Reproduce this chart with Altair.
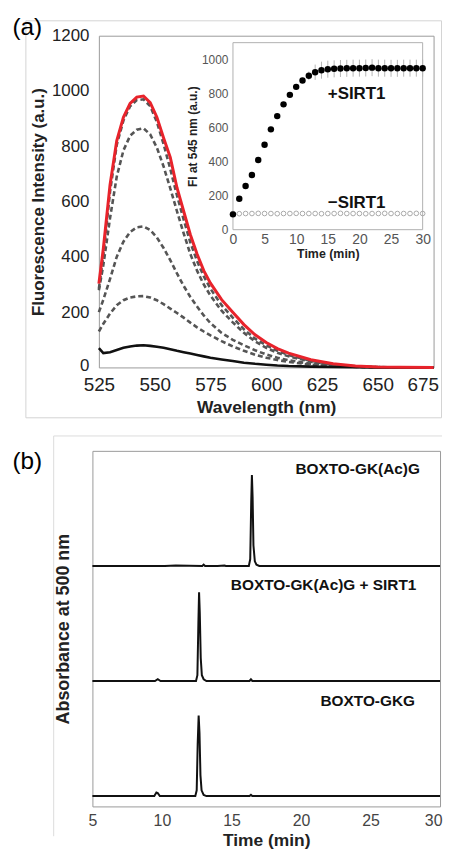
import altair as alt
import pandas as pd

FONT = "Liberation Sans"

# ---------------- Panel (a): emission spectra ----------------
wavelength = [525, 527, 530, 533, 536, 539, 542, 545, 548, 551, 554, 557, 560, 563, 566, 569, 572, 575,
              580, 585, 590, 595, 600, 605, 610, 620, 630, 640, 650, 660, 675]
red_final = [303, 430, 660, 820, 905, 955, 978, 982, 958, 905, 830, 760, 650, 565, 480, 410, 350, 305,
             245, 200, 155, 118, 90, 68, 52, 28, 13, 5, 1.5, 0.5, 0]
dash_970 = [285, 405, 635, 805, 893, 945, 967, 970, 945, 888, 808, 718, 622, 535, 452, 385, 330, 285,
            225, 180, 138, 104, 80, 60, 45, 24, 11, 4, 1.2, 0.4, 0]
dash_865 = [279, 370, 540, 690, 785, 838, 860, 865, 843, 795, 727, 648, 565, 485, 410, 350, 300, 260,
            205, 163, 125, 94, 71, 53, 40, 21, 9, 3.5, 1, 0.3, 0]
dash_510 = [200, 245, 320, 400, 455, 490, 507, 510, 497, 470, 432, 388, 340, 295, 255, 220, 188, 160,
            125, 100, 80, 62, 47, 35, 26, 13, 6, 2.2, 0.6, 0.2, 0]
dash_258 = [130, 158, 195, 225, 243, 253, 257, 258, 253, 243, 229, 213, 197, 180, 162, 145, 130, 116,
            95, 76, 60, 46, 35, 27, 20, 10, 4.5, 1.8, 0.5, 0.2, 0]
black_0 = [70, 52, 55, 63, 71, 76, 79, 80, 78, 75, 71, 66, 60, 55, 50, 45, 40, 35,
           29, 23, 17, 13, 10, 7, 5, 3, 1.5, 0.7, 0.3, 0.1, 0]

# ---------------- Inset: time course ----------------
time_min = list(range(31))
plus_sirt1 = [90, 182, 257, 322, 410, 500, 590, 668, 737, 793, 840, 877, 905, 926, 938, 944, 946, 948,
              949, 950, 950, 951, 953, 950, 950, 949, 949, 950, 950, 950, 950]
plus_err = [0, 0, 0, 0, 0, 0, 0, 0, 0, 0, 0, 0, 25, 45, 50, 50, 50, 50,
            50, 50, 50, 50, 50, 50, 50, 50, 50, 50, 50, 50, 50]
minus_sirt1 = [95, 94, 95, 95, 96, 95, 95, 94, 95, 95, 96, 95, 95, 95, 94, 95, 95, 96,
               95, 95, 95, 94, 95, 95, 96, 95, 95, 95, 95, 96, 95]

# ---------------- Panel (b): HPLC traces ----------------
trace_names = ["BOXTO-GKG", "BOXTO-GK(Ac)G + SIRT1", "BOXTO-GK(Ac)G"]
trace_offsets = [0, 1, 2]
top_t = [5.0, 7.0, 10.2, 11.0, 12.9, 13.0, 13.1, 14.0, 14.5, 14.6, 16.25, 16.35, 16.42, 16.47, 16.52,
         16.58, 16.68, 16.8, 17.0, 30.0]
top_v = [0, 0, 0, 0.004, 0, 0.012, 0, 0, 0.004, 0, 0, 0.06, 0.55, 0.79, 0.6, 0.18, 0.04, 0.01, 0, 0]
mid_t = [5.0, 9.5, 9.7, 9.9, 12.45, 12.55, 12.62, 12.67, 12.72, 12.79, 12.87, 13.0, 13.2, 16.3, 16.4,
         16.5, 30.0]
mid_v = [0, 0, 0.015, 0, 0, 0.05, 0.5, 0.77, 0.6, 0.2, 0.05, 0.015, 0, 0, 0.015, 0, 0]
bot_t = [5.0, 9.45, 9.6, 9.7, 9.85, 12.4, 12.5, 12.57, 12.64, 12.7, 12.77, 12.85, 13.0, 13.2, 16.3,
         16.4, 16.5, 30.0]
bot_v = [0, 0, 0.03, 0.025, 0, 0, 0.05, 0.45, 0.70, 0.55, 0.18, 0.05, 0.01, 0, 0, 0.01, 0, 0]
label_x = [28.2, 28.3, 28.55]
label_y = [0.784, 1.79, 2.802]

# ---------------- build tables ----------------
spec_rows = []
for name, vals in [("d970", dash_970), ("d865", dash_865), ("d510", dash_510), ("d258", dash_258)]:
    for w, v in zip(wavelength, vals):
        spec_rows.append({"wl": w, "fi": v, "series": name})
df_dash = pd.DataFrame(spec_rows)
df_red = pd.DataFrame({"wl": wavelength, "fi": red_final})
df_black = pd.DataFrame({"wl": wavelength, "fi": black_0})

df_plus = pd.DataFrame({"t": time_min, "fi": plus_sirt1,
                        "lo": [v - e for v, e in zip(plus_sirt1, plus_err)],
                        "hi": [v + e for v, e in zip(plus_sirt1, plus_err)],
                        "err": plus_err})
df_err = df_plus[df_plus["err"] > 0]
df_minus = pd.DataFrame({"t": time_min, "fi": minus_sirt1})

trace_rows = []
for name, off, ts, vs in zip(trace_names, trace_offsets, [bot_t, mid_t, top_t], [bot_v, mid_v, top_v]):
    for t, v in zip(ts, vs):
        trace_rows.append({"t": t, "abs": off + v, "trace": name})
df_trace = pd.DataFrame(trace_rows)
df_lab = pd.DataFrame({"t": label_x, "y": label_y, "label": trace_names})

# ---------------- Panel (a) ----------------
W_A, H_A = 337, 334
sx_main = alt.Scale(domain=[525, 675], nice=False, zero=False)
sy_main = alt.Scale(domain=[0, 1200], nice=False)
ax_main_x = alt.Axis(values=[525, 550, 575, 600, 625, 650, 675], title="Wavelength (nm)", grid=False,
                     domain=False, tickSize=0, labelPadding=8, labelFontSize=19, labelColor="#222",
                     labelFlush=False, format="d",
                     labelAlign={"condition": {"test": "datum.value >= 675", "value": "right"},
                                 "value": "center"},
                     labelOffset={"condition": {"test": "datum.value >= 675", "value": 5}, "value": 0},
                     titleFontSize=17.5, titleFontWeight="bold", titleColor="#222", titlePadding=4)
ax_main_y = alt.Axis(values=[0, 200, 400, 600, 800, 1000, 1200], title="Fluorescence Intensity (a.u.)",
                     grid=False, domain=False, tickSize=0, labelPadding=10, labelFontSize=17,
                     labelFlush=False, format="d",
                     labelOffset={"condition": {"test": "datum.value == 0", "value": -2}, "value": 0},
                     labelColor="#222", titleFontSize=17, titleFontWeight="bold", titleColor="#222",
                     titlePadding=4)

xm = alt.X("wl:Q", scale=sx_main, axis=ax_main_x)
ym = alt.Y("fi:Q", scale=sy_main, axis=ax_main_y)

dashed = alt.Chart(df_dash).mark_line(color="#555555", strokeWidth=2.6, strokeDash=[5, 3]).encode(
    x=xm, y=ym, detail="series:N")
black = alt.Chart(df_black).mark_line(color="#111111", strokeWidth=2.6).encode(x=xm, y=ym)
red = alt.Chart(df_red).mark_line(color="#e8232b", strokeWidth=3).encode(x=xm, y=ym)

deco_a = alt.Chart(pd.DataFrame({"k": [0]}))
anchor_a = deco_a.mark_rect(opacity=0).encode(
    x=alt.value(-90.5), x2=alt.value(-89.5), y=alt.value(-24), y2=alt.value(-23))
box_a = deco_a.mark_rect(fill=None, stroke="#d4d4d4", strokeWidth=1).encode(
    x=alt.value(-73.5), x2=alt.value(345), y=alt.value(-15), y2=alt.value(384.7))
tag_a = deco_a.mark_text(text="(a)", font=FONT, fontSize=24.5, align="left", baseline="alphabetic",
                         color="#000").encode(x=alt.value(-87), y=alt.value(-0.5))

main_layer = alt.layer(anchor_a, box_a, dashed, black, red, tag_a)

# inset
sx_in = alt.Scale(domain=[0, 30], range=[135, 326], nice=False)
sy_in = alt.Scale(domain=[0, 1100], range=[195.3, 7], nice=False)
ax_in_x = alt.Axis(values=[0, 5, 10, 15, 20, 25, 30], orient="bottom", offset=-(H_A - 195.3),
                   title="Time (min)", grid=False, domain=False, tickSize=0, labelPadding=3,
                   labelFlush=False, format="d",
                   labelFontSize=14, labelColor="#555", titleFontSize=12.5, titleFontWeight="bold",
                   titleColor="#222", titlePadding=1)
ax_in_y = alt.Axis(values=[0, 200, 400, 600, 800, 1000], orient="left", offset=-135,
                   title="FI at 545 nm (a.u.)", grid=False, domain=False, tickSize=0, labelPadding=5,
                   labelFlush=False, format="d",
                   labelFontSize=12, labelColor="#555", titleFontSize=12, titleFontWeight="bold",
                   titleColor="#222", titlePadding=2)

frame_in = alt.Chart(pd.DataFrame({"k": [0]})).mark_rect(fill="white", stroke="#b0b0b0",
                                                         strokeWidth=1).encode(
    x=alt.X(datum=0, scale=sx_in, axis=ax_in_x), x2=alt.X2(datum=30),
    y=alt.Y(datum=0, scale=sy_in, axis=ax_in_y), y2=alt.Y2(datum=1100))
errs = alt.Chart(df_err).mark_rule(color="#b5b5b5", strokeWidth=1).encode(
    x=alt.X("t:Q", scale=sx_in, axis=ax_in_x), y=alt.Y("lo:Q", scale=sy_in, axis=ax_in_y), y2="hi:Q")
opens = alt.Chart(df_minus).mark_point(filled=False, size=22, color="#a8a8a8", strokeWidth=1,
                                       opacity=1).encode(
    x=alt.X("t:Q", scale=sx_in, axis=ax_in_x), y=alt.Y("fi:Q", scale=sy_in, axis=ax_in_y))
fills = alt.Chart(df_plus).mark_circle(size=42, color="#000", opacity=1).encode(
    x=alt.X("t:Q", scale=sx_in, axis=ax_in_x), y=alt.Y("fi:Q", scale=sy_in, axis=ax_in_y))
txt_in = alt.Chart(pd.DataFrame({"t": [15, 15], "fi": [766, 130], "s": ["+SIRT1", "\u2212SIRT1"]})).mark_text(
    font=FONT, fontSize=17, fontWeight="bold", align="left", baseline="alphabetic", color="#111").encode(
    x=alt.X("t:Q", scale=sx_in, axis=ax_in_x), y=alt.Y("fi:Q", scale=sy_in, axis=ax_in_y), text="s:N")

inset_layer = alt.layer(frame_in, errs, opens, fills, txt_in)

panel_a = alt.layer(main_layer, inset_layer).resolve_scale(
    x="independent", y="independent").resolve_axis(x="independent", y="independent").properties(
    width=W_A, height=H_A)

# ---------------- Panel (b) ----------------
W_B, H_B = 350, 358
sx_b = alt.Scale(domain=[5, 30], nice=False, zero=False)
sy_b = alt.Scale(domain=[-0.09, 3.0], nice=False, zero=False)
ax_b_x = alt.Axis(values=[5, 10, 15, 20, 25, 30], title="Time (min)", grid=False, domain=False,
                  tickSize=0, labelPadding=6, labelFontSize=16, labelColor="#444",
                  labelFlush=False, format="d",
                  labelAlign={"condition": {"test": "datum.value >= 30", "value": "right"},
                              "value": "center"},
                  labelOffset={"condition": {"test": "datum.value >= 30", "value": 2}, "value": 0},
                  titleFontSize=17.5, titleFontWeight="bold", titleColor="#222", titlePadding=3)
ax_b_y = alt.Axis(title="Absorbance at 500 nm", labels=False, ticks=False, domain=False, grid=False,
                  titleFontSize=18, titleFontWeight="bold", titleColor="#222", titlePadding=20)

traces = alt.Chart(df_trace).mark_line(color="#111", strokeWidth=2).encode(
    x=alt.X("t:Q", scale=sx_b, axis=ax_b_x), y=alt.Y("abs:Q", scale=sy_b, axis=ax_b_y),
    detail="trace:N")
labels_b = alt.Chart(df_lab).mark_text(font=FONT, fontSize=15.5, fontWeight="bold", align="right",
                                       baseline="alphabetic", color="#111").encode(
    x=alt.X("t:Q", scale=sx_b, axis=ax_b_x), y=alt.Y("y:Q", scale=sy_b, axis=ax_b_y), text="label:N")

deco_b = alt.Chart(pd.DataFrame({"k": [0]}))
box_b_top = deco_b.mark_rule(color="#dcdcdc", strokeWidth=1).encode(
    x=alt.value(-39), x2=alt.value(352), y=alt.value(-15))
box_b_left = deco_b.mark_rule(color="#dcdcdc", strokeWidth=1).encode(
    x=alt.value(-39), y=alt.value(-15), y2=alt.value(388))
tag_b = deco_b.mark_text(text="(b)", font=FONT, fontSize=24.5, align="left", baseline="alphabetic",
                         color="#000").encode(x=alt.value(-80.5), y=alt.value(18.3))

panel_b = alt.layer(box_b_top, box_b_left, traces, labels_b, tag_b).properties(width=W_B, height=H_B)

chart = alt.vconcat(panel_a, panel_b, spacing=84, center=True, bounds="flush").properties(
    padding=0
).configure(font=FONT).configure_view(stroke="#9a9a9a", strokeWidth=1)

chart.save("out.html", embed_options={"renderer": "svg", "actions": False})
